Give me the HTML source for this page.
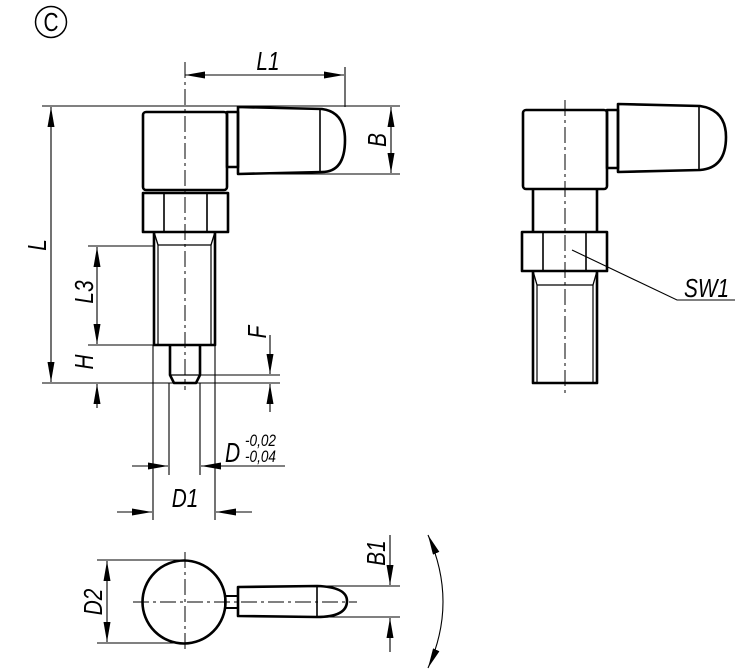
<!DOCTYPE html>
<html><head><meta charset="utf-8"><style>
html,body{margin:0;padding:0;background:#fff}
svg{display:block}
text{font-family:"Liberation Sans",sans-serif;font-style:italic;fill:#000}
</style></head><body>
<svg width="750" height="672" viewBox="0 0 750 672" xmlns="http://www.w3.org/2000/svg">
<defs>
<marker id="a" viewBox="0 0 20 7" refX="20" refY="3.5" markerWidth="20" markerHeight="7" markerUnits="userSpaceOnUse" orient="auto-start-reverse"><path d="M0,0L20,3.5L0,7z" fill="#000"/></marker>
</defs>
<g fill="none" stroke="#000">
<circle cx="51" cy="22" r="15.5" stroke-width="1.5"/>
<g stroke-width="2.6" stroke-linejoin="round">
<rect x="143" y="112" width="84" height="78" rx="3"/>
<rect x="227" y="112" width="11" height="55"/>
<path d="M238,107 L322,109 Q345,112 345,140 Q345,172 322,172 L238,174 Z"/>
<line x1="320" y1="109" x2="320" y2="172" stroke-width="1.6"/>
<rect x="143" y="193" width="85" height="39"/>
<line x1="164" y1="193" x2="164" y2="232" stroke-width="1.6"/>
<line x1="207" y1="193" x2="207" y2="232" stroke-width="1.6"/>
<path d="M154,232 L154,345 L215,345 L215,232"/>
<path d="M154,232 L158,245 L211,245 L215,232" stroke-width="1.3"/>
<line x1="158" y1="245" x2="158" y2="345" stroke-width="1.2"/>
<line x1="211" y1="245" x2="211" y2="345" stroke-width="1.2"/>
<path d="M170,345 L170,375 L174,383 L196,383 L200,375 L200,345"/>
<line x1="170" y1="375" x2="200" y2="375" stroke-width="1.2"/>
</g>
<line x1="185" y1="62" x2="185" y2="390" stroke-width="1" stroke-dasharray="16,4,3,4"/>
<g stroke-width="1.1">
<line x1="42" y1="106" x2="400" y2="106"/>
<line x1="42" y1="383" x2="280" y2="383"/>
<line x1="51" y1="107" x2="51" y2="382" marker-start="url(#a)" marker-end="url(#a)"/>
<line x1="88" y1="246" x2="154" y2="246"/>
<line x1="88" y1="345" x2="154" y2="345"/>
<line x1="97" y1="247" x2="97" y2="344" marker-start="url(#a)" marker-end="url(#a)"/>
<line x1="97" y1="408" x2="97" y2="384" marker-end="url(#a)"/>
<line x1="200" y1="375" x2="280" y2="375"/>
<line x1="270" y1="335" x2="270" y2="374" marker-end="url(#a)"/>
<line x1="270" y1="412" x2="270" y2="384" marker-end="url(#a)"/>
<line x1="185" y1="75" x2="344" y2="75" marker-start="url(#a)" marker-end="url(#a)"/>
<line x1="345" y1="67" x2="345" y2="107"/>
<line x1="238" y1="174" x2="400" y2="174"/>
<line x1="391" y1="107" x2="391" y2="173" marker-start="url(#a)" marker-end="url(#a)"/>
<line x1="153" y1="345" x2="153" y2="520"/>
<line x1="215" y1="345" x2="215" y2="520"/>
<line x1="169" y1="383" x2="169" y2="475"/>
<line x1="200" y1="383" x2="200" y2="475"/>
<line x1="132" y1="466" x2="168" y2="466" marker-end="url(#a)"/>
<line x1="285" y1="466" x2="201" y2="466" marker-end="url(#a)"/>
<line x1="117" y1="512" x2="152" y2="512" marker-end="url(#a)"/>
<line x1="252" y1="512" x2="216" y2="512" marker-end="url(#a)"/>
</g>
<g stroke-width="2.6" stroke-linejoin="round">
<circle cx="184" cy="602" r="41.5"/>
<rect x="225" y="596" width="13" height="12" stroke-width="2"/>
<path d="M238,587 L317,586 Q347,587 347,601 Q347,617 317,617 L238,616 Z"/>
<line x1="317" y1="586" x2="317" y2="617" stroke-width="1.6"/>
</g>
<line x1="133" y1="602" x2="357" y2="602" stroke-width="1" stroke-dasharray="16,4,3,4"/>
<line x1="185" y1="552" x2="185" y2="652" stroke-width="1" stroke-dasharray="16,4,3,4"/>
<g stroke-width="1.1">
<line x1="97" y1="560" x2="185" y2="560"/>
<line x1="97" y1="643" x2="185" y2="643"/>
<line x1="107" y1="561" x2="107" y2="642" marker-start="url(#a)" marker-end="url(#a)"/>
<line x1="317" y1="586" x2="400" y2="586"/>
<line x1="317" y1="617" x2="400" y2="617"/>
<line x1="390" y1="535" x2="390" y2="585" marker-end="url(#a)"/>
<line x1="390" y1="652" x2="390" y2="618" marker-end="url(#a)"/>
<path d="M428,535 Q458,602 428,668" marker-start="url(#a)" marker-end="url(#a)"/>
</g>
<g stroke-width="2.6" stroke-linejoin="round">
<rect x="523" y="110" width="84" height="79" rx="3"/>
<rect x="607" y="110" width="11" height="58"/>
<path d="M618,104 L700,106 Q726,110 726,137 Q726,168 700,170 L618,172 Z"/>
<line x1="699" y1="106" x2="699" y2="170" stroke-width="1.6"/>
<path d="M533,189 L533,232 M597,189 L597,232"/>
<rect x="522" y="232" width="85" height="39"/>
<line x1="543" y1="232" x2="543" y2="271" stroke-width="1.6"/>
<line x1="586" y1="232" x2="586" y2="271" stroke-width="1.6"/>
<path d="M533,271 L533,383 L597,383 L597,271"/>
<path d="M533,271 L537,285 L593,285 L597,271" stroke-width="1.3"/>
<line x1="537" y1="285" x2="537" y2="383" stroke-width="1.2"/>
<line x1="593" y1="285" x2="593" y2="383" stroke-width="1.2"/>
</g>
<line x1="565" y1="100" x2="565" y2="395" stroke-width="1" stroke-dasharray="16,4,3,4"/>
<polyline points="572,250 677,300 735,300" stroke-width="1.1"/>
</g>
<text transform="translate(51,31) scale(0.8,1)" font-size="26" text-anchor="middle" style="font-style:normal">C</text>
<text transform="translate(268,70) scale(0.8,1)" font-size="26" text-anchor="middle">L1</text>
<text transform="translate(386,140) rotate(-90) scale(0.8,1)" font-size="26" text-anchor="middle">B</text>
<text transform="translate(46,245) rotate(-90) scale(0.8,1)" font-size="26" text-anchor="middle">L</text>
<text transform="translate(93,292) rotate(-90) scale(0.8,1)" font-size="26" text-anchor="middle">L3</text>
<text transform="translate(93,362) rotate(-90) scale(0.8,1)" font-size="26" text-anchor="middle">H</text>
<text transform="translate(266,332) rotate(-90) scale(0.8,1)" font-size="26" text-anchor="middle">F</text>
<text transform="translate(225,462) scale(0.75,1)" font-size="28">D</text>
<text transform="translate(245,446) scale(0.8,1)" font-size="17">-0,02</text>
<text transform="translate(245,462) scale(0.8,1)" font-size="17">-0,04</text>
<text transform="translate(185,507) scale(0.8,1)" font-size="26" text-anchor="middle">D1</text>
<text transform="translate(102,602) rotate(-90) scale(0.8,1)" font-size="26" text-anchor="middle">D2</text>
<text transform="translate(385,553) rotate(-90) scale(0.8,1)" font-size="26" text-anchor="middle">B1</text>
<text transform="translate(684,297) scale(0.8,1)" font-size="26">SW1</text>
</svg>
</body></html>
